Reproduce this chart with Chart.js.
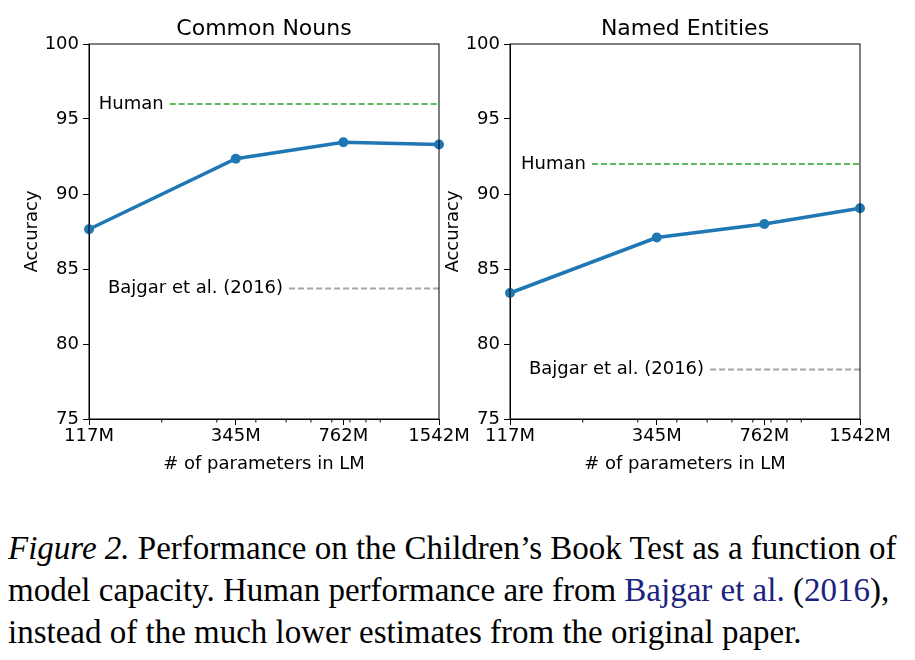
<!DOCTYPE html>
<html>
<head>
<meta charset="utf-8">
<script src="https://cdn.jsdelivr.net/npm/chart.js@4.4.0/dist/chart.umd.min.js"></script>
<style>
  body { margin: 0; background: #fff; width: 915px; height: 660px; position: relative; overflow: hidden; }
  .box { position: absolute; top: 0; width: 475px; height: 490px; }
  #caption { position: absolute; left: 8px; top: 527px; width: 905px; font-family: "Liberation Serif", "DejaVu Serif", serif; font-size: 33px; line-height: 42px; color: #000; white-space: nowrap; }
  #caption .ref { color: #1a237e; }
</style>
</head>
<body>
<div class="box" style="left:0"><canvas id="nouns"></canvas></div>
<div class="box" style="left:421px"><canvas id="entities"></canvas></div>
<div id="caption"><i>Figure 2.</i> Performance on the Children’s Book Test as a function of<br>model capacity. Human performance are from <span class="ref">Bajgar et al.</span> (<span class="ref">2016</span>),<br>instead of the much lower estimates from the original paper.</div>
<script>
// model sizes (millions of parameters)
const sizes = [117, 345, 762, 1542];
const tickLabels = ["117M", "345M", "762M", "1542M"];
const minorTicks = [200, 300, 400, 500, 600, 700, 800, 900, 1000];

// accuracy per panel
const nounsAcc = [87.65, 92.35, 93.45, 93.3];
const entitiesAcc = [83.4, 87.1, 88.0, 89.05];

// reference lines [startX, value]
const nounsHuman = [212, 96];
const nounsBajgar = [511, 83.7];
const entitiesHuman = [214, 92];
const entitiesBajgar = [511, 78.3];

const font = "'DejaVu Sans', sans-serif";

// box, minor ticks, title and labels for reference lines
const decor = {
    id: "decor",
    afterDraw(chart, args, opts) {
        const ctx = chart.ctx;
        const a = chart.chartArea;
        const xs = chart.scales.x;
        const ys = chart.scales.y;
        ctx.save();
        ctx.strokeStyle = "#000";
        ctx.lineWidth = 1;
        ctx.strokeRect(a.left, a.top, a.right - a.left, a.bottom - a.top);
        ctx.beginPath();
        minorTicks.forEach(v => {
            const px = xs.getPixelForValue(v);
            ctx.moveTo(px, a.bottom);
            ctx.lineTo(px, a.bottom + 3.5);
        });
        ctx.stroke();
        ctx.fillStyle = "#000";
        ctx.font = "22px " + font;
        ctx.textAlign = "center";
        ctx.textBaseline = "middle";
        ctx.fillText(opts.title, (a.left + a.right) / 2, 29);
        ctx.font = "18px " + font;
        ctx.textAlign = "right";
        opts.labels.forEach(l => {
            ctx.fillText(l.text, xs.getPixelForValue(l.at[0]) - 6, ys.getPixelForValue(l.at[1]));
        });
        ctx.restore();
    }
};

function refLine(pt, color) {
    return {
        data: [{ x: pt[0], y: pt[1] }, { x: sizes[sizes.length - 1], y: pt[1] }],
        borderColor: color,
        borderWidth: 2,
        borderDash: [6, 3],
        pointRadius: 0
    };
}

function makeChart(id, title, acc, human, bajgar) {
    return new Chart(document.getElementById(id), {
        type: "line",
        data: {
            datasets: [
                refLine(human, "rgba(44,160,44,0.75)"),
                refLine(bajgar, "rgba(127,127,127,0.7)"),
                {
                    data: sizes.map((s, i) => ({ x: s, y: acc[i] })),
                    borderColor: "#1f77b4",
                    backgroundColor: "#1f77b4",
                    borderWidth: 3.5,
                    pointRadius: 5,
                    pointBorderWidth: 0
                }
            ]
        },
        plugins: [decor],
        options: {
            responsive: false,
            animation: false,
            clip: false,
            layout: { padding: { top: 44, right: 36, bottom: 11, left: 18 } },
            plugins: {
                legend: { display: false },
                tooltip: { enabled: false },
                decor: {
                    title: title,
                    labels: [{ text: "Human", at: human }, { text: "Bajgar et al. (2016)", at: bajgar }]
                }
            },
            scales: {
                x: {
                    type: "logarithmic",
                    min: sizes[0],
                    max: sizes[sizes.length - 1],
                    afterBuildTicks: s => { s.ticks = sizes.map(v => ({ value: v })); },
                    afterFit: s => { s.height = 60; },
                    grid: { drawOnChartArea: false, tickLength: 6, color: "#000" },
                    border: { color: "#000" },
                    ticks: {
                        color: "#000", font: { family: font, size: 18 }, maxRotation: 0, padding: 1,
                        callback: (v, i) => tickLabels[i]
                    },
                    title: { display: true, text: "# of parameters in LM", color: "#000", font: { family: font, size: 18 }, padding: { top: 0 } }
                },
                y: {
                    min: 75,
                    max: 100,
                    afterFit: s => { s.width = 71; },
                    grid: { drawOnChartArea: false, tickLength: 6, color: "#000" },
                    border: { color: "#000" },
                    ticks: { stepSize: 5, color: "#000", font: { family: font, size: 18 }, padding: 4 },
                    title: { display: true, text: "Accuracy", color: "#000", font: { family: font, size: 18 }, padding: { bottom: 4 } }
                }
            }
        }
    });
}

document.querySelectorAll("canvas").forEach(c => { c.width = 475; c.height = 490; });
makeChart("nouns", "Common Nouns", nounsAcc, nounsHuman, nounsBajgar);
makeChart("entities", "Named Entities", entitiesAcc, entitiesHuman, entitiesBajgar);
</script>
</body>
</html>
